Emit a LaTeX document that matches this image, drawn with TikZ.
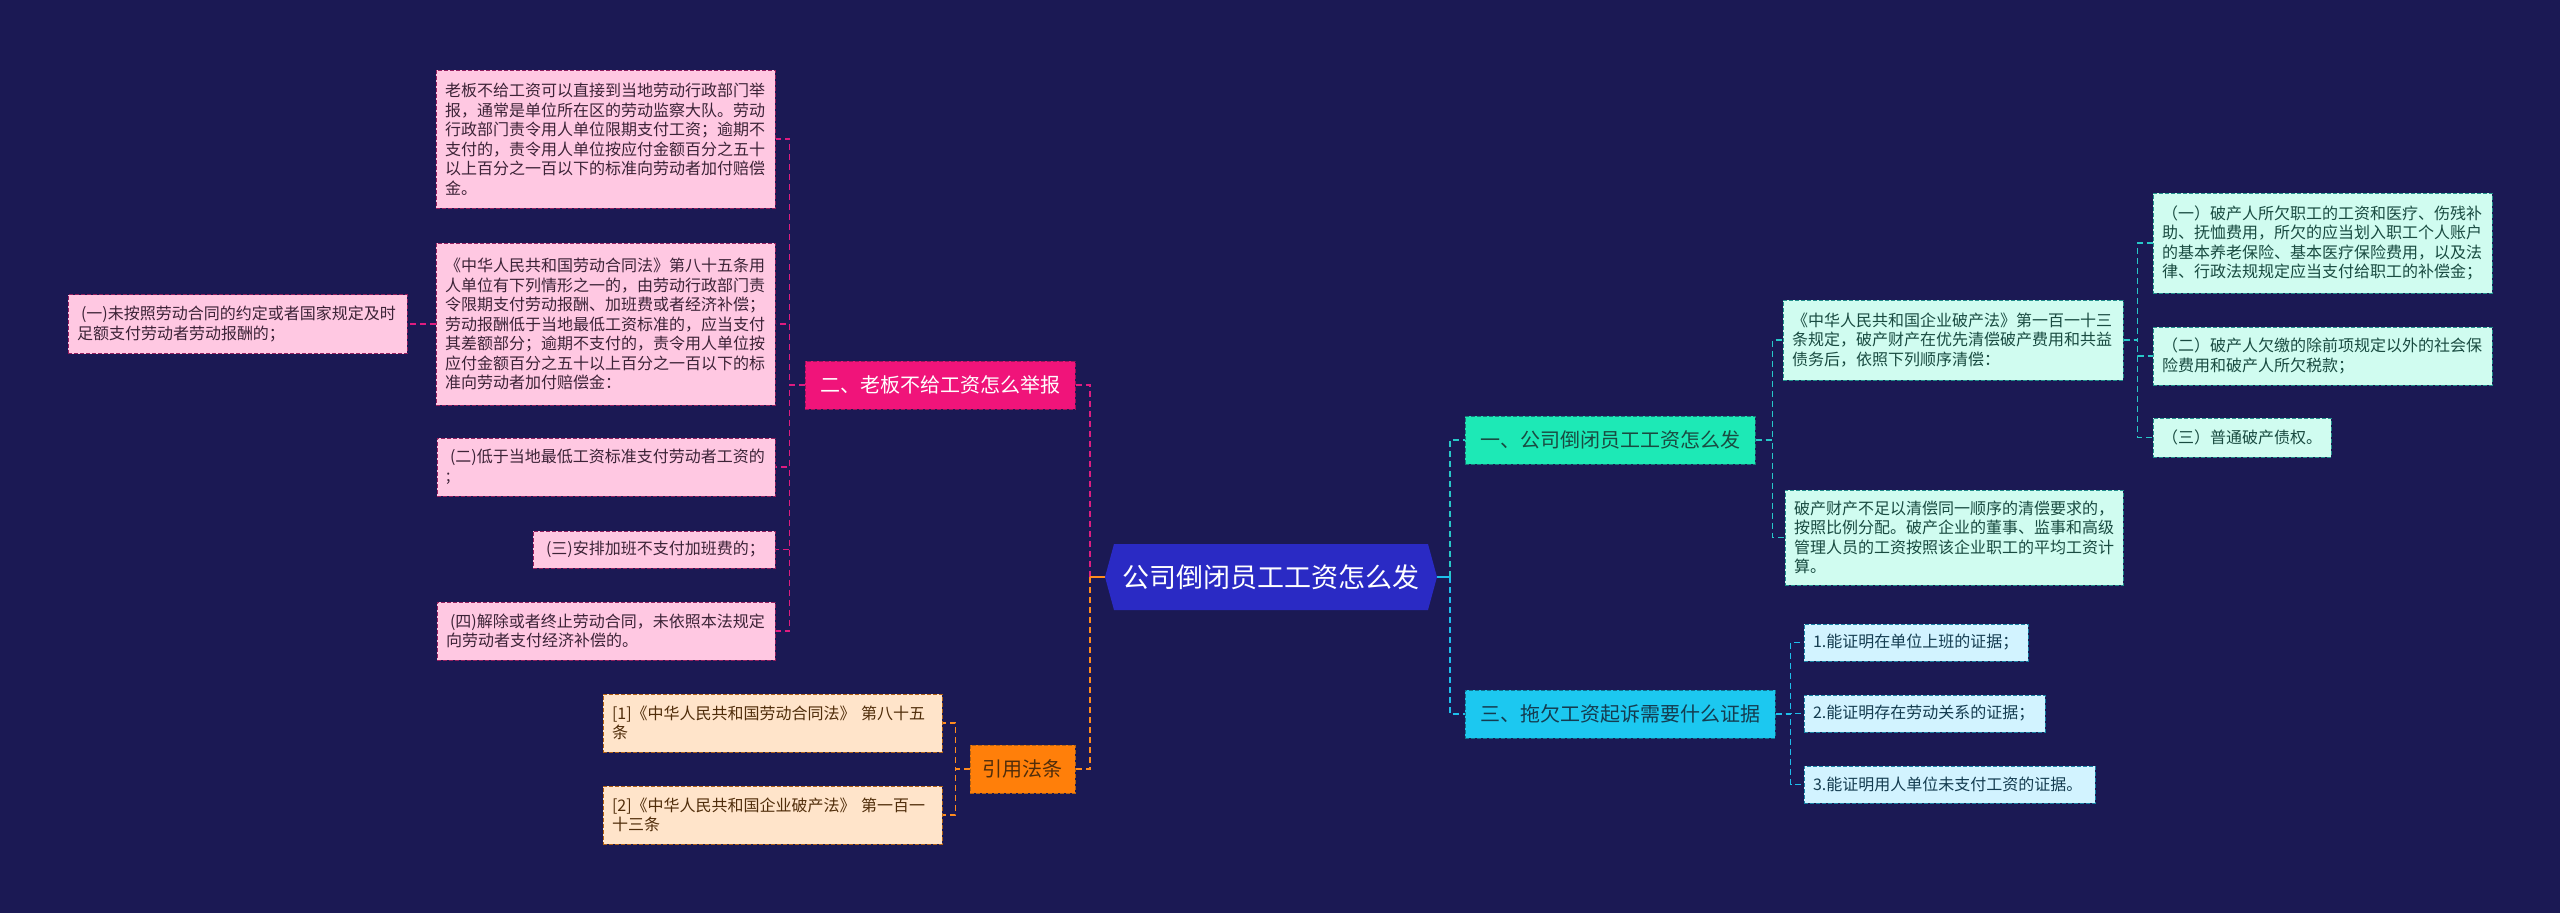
\documentclass[tikz,border=0pt]{standalone}
\usepackage{fontspec}
\setmainfont{Noto Sans CJK SC}
\usepackage{tikz}
\definecolor{bgnavy}{RGB}{27,25,84}
\definecolor{rootblue}{RGB}{42,42,196}
\definecolor{magfill}{RGB}{240,20,122}
\definecolor{magline}{RGB}{222,28,128}
\definecolor{pinkfill}{RGB}{255,200,226}
\definecolor{pinktext}{RGB}{60,35,55}
\definecolor{orgfill}{RGB}{255,127,10}
\definecolor{orgline}{RGB}{255,140,30}
\definecolor{peachfill}{RGB}{255,228,202}
\definecolor{browntext}{RGB}{80,45,10}
\definecolor{tealfill}{RGB}{29,233,182}
\definecolor{tealline}{RGB}{40,200,200}
\definecolor{mintfill}{RGB}{208,252,240}
\definecolor{tealtext}{RGB}{25,75,65}
\definecolor{cyanfill}{RGB}{28,200,240}
\definecolor{cyanline}{RGB}{30,190,235}
\definecolor{icefill}{RGB}{210,243,255}
\definecolor{cyantext}{RGB}{20,60,80}
\tikzset{
  rootbox/.style={rectangle, fill=bgnavy, minimum width=332pt, minimum height=66pt, inner sep=0pt, text=white,
    font=\fontsize{27}{32}\selectfont,
    path picture={\fill[rootblue] ([xshift=9pt]path picture bounding box.north west) -- ([xshift=-9pt]path picture bounding box.north east)
      -- (path picture bounding box.east) -- ([xshift=-9pt]path picture bounding box.south east)
      -- ([xshift=9pt]path picture bounding box.south west) -- (path picture bounding box.west) -- cycle;}},
  headbox/.style={rectangle, dash pattern=on 4pt off 2pt, line width=1pt, inner xsep=15pt, inner ysep=0pt, minimum height=48pt, font=\fontsize{20}{24}\selectfont},
  leafbox/.style={rectangle, dash pattern=on 4pt off 2pt, line width=1pt, inner xsep=9pt, inner ysep=3pt, align=left, font=\fontsize{16}{19.5}\selectfont},
  pinkleaf/.style={leafbox, fill=pinkfill, draw=magline!55!pinktext, text=pinktext},
  peachleaf/.style={leafbox, fill=peachfill, draw=orgline!55!browntext, text=browntext},
  mintleaf/.style={leafbox, fill=mintfill, draw=tealline!55!tealtext, text=tealtext},
  iceleaf/.style={leafbox, fill=icefill, draw=cyanline!55!cyantext, text=cyantext},
  linkm/.style={magline, line width=1.6pt, dash pattern=on 6pt off 4pt},
  linko/.style={orgline, line width=1.6pt, dash pattern=on 6pt off 4pt},
  linkt/.style={tealline, line width=1.6pt, dash pattern=on 6pt off 4pt},
  linkc/.style={cyanline, line width=1.6pt, dash pattern=on 6pt off 4pt},
}
\begin{document}
\begin{tikzpicture}[x=1pt,y=-1pt]
  \fill[bgnavy] (0,0) rectangle (2560,913);
  \node[rootbox] (ctr) at (1271,577) {公司倒闭员工工资怎么发};
  \node[headbox, fill=magfill, draw=magline!70!black, text=white] (q2) at (940,385) {二、老板不给工资怎么举报};
  \node[headbox, fill=orgfill, draw=orgline!70!black, text=browntext, inner xsep=12.5pt] (cite) at (1022.5,769) {引用法条};
  \node[headbox, fill=tealfill, draw=tealline!60!black, text=tealtext] (q1) at (1610,440) {一、公司倒闭员工工资怎么发};
  \node[headbox, fill=cyanfill, draw=cyanline!60!black, text=cyantext] (q3) at (1620,714) {三、拖欠工资起诉需要什么证据};
  \node[pinkleaf, text width=321pt, minimum height=138pt] (l1) at (605.5,139)
    {老板不给工资可以直接到当地劳动行政部门举\\报，通常是单位所在区的劳动监察大队。劳动\\行政部门责令用人单位限期支付工资；逾期不\\支付的，责令用人单位按应付金额百分之五十\\以上百分之一百以下的标准向劳动者加付赔偿\\金。};
  \node[pinkleaf, text width=321pt, minimum height=162pt] (l2) at (605.5,324)
    {《中华人民共和国劳动合同法》第八十五条用\\人单位有下列情形之一的，由劳动行政部门责\\令限期支付劳动报酬、加班费或者经济补偿；\\劳动报酬低于当地最低工资标准的，应当支付\\其差额部分；逾期不支付的，责令用人单位按\\应付金额百分之五十以上百分之一百以下的标\\准向劳动者加付赔偿金：};
  \node[pinkleaf, text width=321pt, minimum height=59pt] (l0) at (237.5,324)
    {\hspace*{4pt}(一)未按照劳动合同的约定或者国家规定及时\\足额支付劳动者劳动报酬的；};
  \node[pinkleaf, text width=320pt, minimum height=58pt] (l3) at (606,467)
    {\hspace*{4pt}(二)低于当地最低工资标准支付劳动者工资的\\;};
  \node[pinkleaf, text width=224pt, minimum height=37pt] (l4) at (654,549.5)
    {\hspace*{4pt}(三)安排加班不支付加班费的；};
  \node[pinkleaf, text width=320pt, minimum height=58pt] (l5) at (606,631)
    {\hspace*{4pt}(四)解除或者终止劳动合同，未依照本法规定\\向劳动者支付经济补偿的。};
  \node[peachleaf, text width=321pt, minimum height=58pt] (c1) at (772.5,723)
    {[1]《中华人民共和国劳动合同法》 第八十五\\条};
  \node[peachleaf, text width=321pt, minimum height=58pt] (c2) at (772.5,815)
    {[2]《中华人民共和国企业破产法》 第一百一\\十三条};
  \node[mintleaf, text width=322pt, minimum height=80pt] (r1) at (1953,340)
    {《中华人民共和国企业破产法》第一百一十三\\条规定，破产财产在优先清偿破产费用和共益\\债务后，依照下列顺序清偿：};
  \node[mintleaf, text width=320pt, minimum height=95pt] (r2) at (1954,537.5)
    {破产财产不足以清偿同一顺序的清偿要求的，\\按照比例分配。破产企业的董事、监事和高级\\管理人员的工资按照该企业职工的平均工资计\\算。};
  \node[mintleaf, text width=321pt, minimum height=100pt] (r1a) at (2322.5,243)
    {（一）破产人所欠职工的工资和医疗、伤残补\\助、抚恤费用，所欠的应当划入职工个人账户\\的基本养老保险、基本医疗保险费用，以及法\\律、行政法规规定应当支付给职工的补偿金；};
  \node[mintleaf, text width=321pt, minimum height=58pt] (r1b) at (2322.5,356)
    {（二）破产人欠缴的除前项规定以外的社会保\\险费用和破产人所欠税款；};
  \node[mintleaf, text width=160pt, minimum height=39pt] (r1c) at (2242,437.5)
    {（三）普通破产债权。};
  \node[iceleaf, text width=206pt, minimum height=37pt] (e1) at (1916,642.5) {1.能证明在单位上班的证据；};
  \node[iceleaf, text width=223pt, minimum height=37pt] (e2) at (1924.5,713.5) {2.能证明存在劳动关系的证据；};
  \node[iceleaf, text width=273pt, minimum height=37pt] (e3) at (1949.5,784.5) {3.能证明用人单位未支付工资的证据。};
  \draw[linkm] (ctr.west) ++(-15,0) |- (q2.east);
  \draw[linko] (ctr.west) ++(-15,0) |- (cite.east);
  \draw[orgline, line width=1.6pt] (ctr.west) -- ++(-15,0);
  \draw[linkt] (ctr.east) ++(13,0) |- (q1.west);
  \draw[linkc] (ctr.east) ++(13,0) |- (q3.west);
  \draw[cyanline, line width=1.6pt] (ctr.east) -- ++(13,0);
  \foreach \n in {l1,l2,l3,l4,l5}
    \draw[linkm] (q2.west) -- ++(-15,0) |- (\n.east);
  \draw[linkm] (l2.west) -- (l0.east);
  \foreach \n in {c1,c2}
    \draw[linko] (cite.west) -- ++(-14,0) |- (\n.east);
  \foreach \n in {r1,r2}
    \draw[linkt] (q1.east) -- ++(17,0) |- (\n.west);
  \foreach \n in {r1a,r1b,r1c}
    \draw[linkt] (r1.east) -- ++(14,0) |- (\n.west);
  \foreach \n in {e1,e2,e3}
    \draw[linkc] (q3.east) -- ++(15,0) |- (\n.west);
\end{tikzpicture}
\end{document}
